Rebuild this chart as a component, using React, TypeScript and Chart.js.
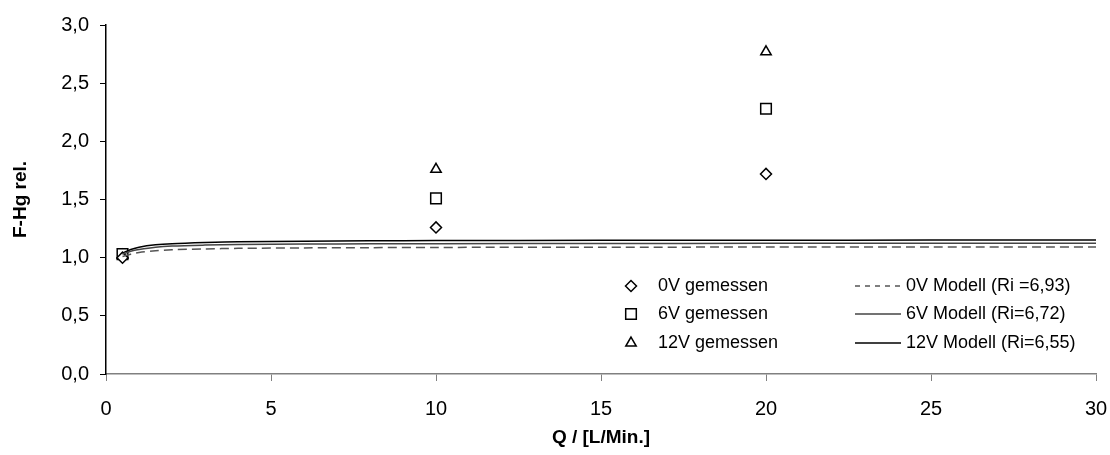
import React, { useEffect, useRef } from 'react';
import { Chart, registerables } from 'chart.js';
import { drawPoint } from 'chart.js/helpers';

Chart.register(...registerables);

// Measured values at the three flow rates
const flowQ = [0.5, 10, 20];
const measured0V = [1.0, 1.26, 1.72];
const measured6V = [1.03, 1.51, 2.28];
const measured12V = [1.02, 1.76, 2.77];

// Model curves
const modelQ = [0.5, 0.75, 1, 1.5, 2, 3, 4, 6, 8, 10, 15, 20, 25, 30];
const model0V = [1.01, 1.03, 1.045, 1.06, 1.068, 1.075, 1.08, 1.084, 1.086, 1.088, 1.09, 1.091, 1.092, 1.092];
const model6V = [1.03, 1.055, 1.07, 1.09, 1.1, 1.108, 1.113, 1.117, 1.119, 1.12, 1.122, 1.123, 1.124, 1.124];
const model12V = [1.04, 1.07, 1.09, 1.11, 1.12, 1.13, 1.137, 1.142, 1.145, 1.147, 1.149, 1.15, 1.151, 1.152];

const measuredLabels = ['0V gemessen', '6V gemessen', '12V gemessen'];
const modelLabels = ['0V Modell (Ri =6,93)', '6V Modell (Ri=6,72)', '12V Modell (Ri=6,55)'];

const FONT = '"Liberation Sans", Arial, sans-serif';

const toPoints = (xs: number[], ys: number[]) => xs.map((x, i) => ({ x, y: ys[i] }));

// Two-column legend placed inside the plot area
const legendPlugin = {
  id: 'twoColumnLegend',
  afterDraw(chart: any) {
    const ctx = chart.ctx;
    const rows = [286, 314, 343];
    const markerX = 631;
    const textX = 658;
    const lineX0 = 855;
    const lineX1 = 901;
    const modelTextX = 906;
    ctx.save();
    ctx.font = `18px ${FONT}`;
    ctx.fillStyle = '#000';
    ctx.textBaseline = 'middle';
    ctx.textAlign = 'left';
    const ds = chart.data.datasets;
    rows.forEach((y: number, i: number) => {
      const m = ds[3 + i];
      ctx.save();
      ctx.strokeStyle = '#000';
      ctx.fillStyle = '#fff';
      ctx.lineWidth = 1.5;
      drawPoint(ctx, { pointStyle: m.pointStyle, radius: m.pointRadius, rotation: 0, borderWidth: 1.5 }, markerX, y);
      ctx.restore();
      ctx.fillText(measuredLabels[i], textX, y);

      const l = ds[i];
      ctx.save();
      ctx.strokeStyle = l.borderColor;
      ctx.lineWidth = l.borderWidth;
      ctx.setLineDash(i === 0 ? [5, 5] : []);
      ctx.beginPath();
      ctx.moveTo(lineX0, y);
      ctx.lineTo(lineX1, y);
      ctx.stroke();
      ctx.restore();
      ctx.fillText(modelLabels[i], modelTextX, y);
    });
    ctx.restore();
  },
};

export default function App() {
  const canvasRef = useRef<HTMLCanvasElement | null>(null);

  useEffect(() => {
    if (!canvasRef.current) return;
    const chart = new Chart(canvasRef.current, {
      type: 'scatter',
      data: {
        datasets: [
          {
            label: modelLabels[0],
            data: toPoints(modelQ, model0V),
            showLine: true,
            borderColor: '#555',
            borderWidth: 1.5,
            borderDash: [9, 5],
            pointRadius: 0,
            tension: 0.3,
          },
          {
            label: modelLabels[1],
            data: toPoints(modelQ, model6V),
            showLine: true,
            borderColor: '#444',
            borderWidth: 1.5,
            pointRadius: 0,
            tension: 0.3,
          },
          {
            label: modelLabels[2],
            data: toPoints(modelQ, model12V),
            showLine: true,
            borderColor: '#000',
            borderWidth: 1.5,
            pointRadius: 0,
            tension: 0.3,
          },
          {
            label: measuredLabels[0],
            data: toPoints(flowQ, measured0V),
            pointStyle: 'rectRot',
            pointRadius: 5.5,
            borderColor: '#000',
            backgroundColor: '#fff',
            borderWidth: 1.5,
          },
          {
            label: measuredLabels[1],
            data: toPoints(flowQ, measured6V),
            pointStyle: 'rect',
            pointRadius: 7.5,
            borderColor: '#000',
            backgroundColor: '#fff',
            borderWidth: 1.5,
          },
          {
            label: measuredLabels[2],
            data: toPoints(flowQ, measured12V),
            pointStyle: 'triangle',
            pointRadius: 6,
            borderColor: '#000',
            backgroundColor: '#fff',
            borderWidth: 1.5,
          },
        ],
      },
      options: {
        animation: false,
        responsive: false,
        maintainAspectRatio: false,
        layout: { padding: { top: 25, right: 14, left: 0, bottom: 0 } },
        plugins: { legend: { display: false }, tooltip: { enabled: false } },
        scales: {
          x: {
            type: 'linear',
            min: 0,
            max: 30,
            afterFit: (s: any) => { s.height = 81; s.paddingLeft = 0; s.paddingRight = 0; },
            ticks: {
              stepSize: 5,
              color: '#000',
              padding: 16,
              font: { family: FONT, size: 20 },
            },
            grid: { drawOnChartArea: false, drawTicks: true, tickLength: 7, color: '#808080' },
            border: { color: '#808080', width: 1.5 },
            title: {
              display: true,
              text: 'Q / [L/Min.]',
              color: '#000',
              font: { family: FONT, size: 19, weight: 'bold' },
              padding: { top: 0, bottom: 6 },
            },
          },
          y: {
            type: 'linear',
            min: 0,
            max: 3,
            afterFit: (s: any) => { s.width = 106; s.paddingTop = 0; s.paddingBottom = 0; },
            ticks: {
              stepSize: 0.5,
              color: '#000',
              padding: 11,
              font: { family: FONT, size: 20 },
              callback: (v: any) => Number(v).toFixed(1).replace('.', ','),
            },
            grid: { drawOnChartArea: false, drawTicks: true, tickLength: 6, color: '#000' },
            border: { color: '#000', width: 1.5 },
            title: {
              display: true,
              text: 'F-Hg rel.',
              color: '#000',
              font: { family: FONT, size: 19, weight: 'bold' },
              padding: { top: 9, bottom: 0 },
            },
          },
        },
      },
      plugins: [legendPlugin],
    } as any);
    return () => chart.destroy();
  }, []);

  return (
    <div style={{ position: 'fixed', left: 0, top: 0, width: 1110, height: 455, background: '#fff' }}>
      <canvas ref={canvasRef} width={1110} height={455} style={{ width: 1110, height: 455 }} />
    </div>
  );
}
